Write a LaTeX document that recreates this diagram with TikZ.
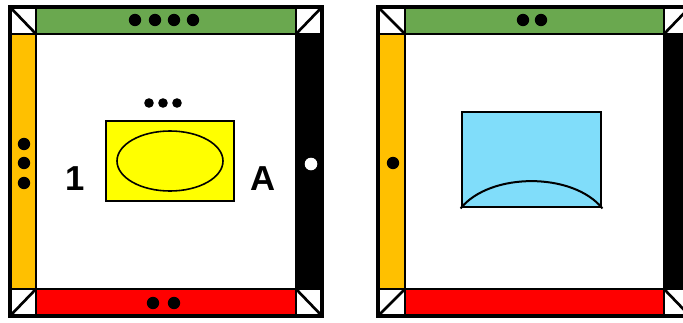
\documentclass[tikz,border=0pt]{standalone}
\usepackage{fontspec}
\setmainfont{Liberation Sans}
\definecolor{cgreen}{RGB}{106,168,79}
\definecolor{corange}{RGB}{255,192,0}
\definecolor{cred}{RGB}{255,0,0}
\definecolor{cyellow}{RGB}{255,255,0}
\definecolor{cblue}{RGB}{128,221,250}
\begin{document}
\begin{tikzpicture}[x=0.75pt,y=-0.75pt,
  cell/.style={draw=black,line width=2pt},
  frame/.style={draw=black,line width=2.6pt},
  dotb/.style={fill=black,draw=none},
  dotw/.style={fill=white,draw=none},
  lbl/.style={font=\bfseries\fontsize{26}{30}\selectfont,inner sep=0pt,anchor=base}]
\useasboundingbox (0,0) rectangle (683,322);
\begin{scope}
\clip (0,0) rectangle (683,322);
% ---------- left square ----------
\fill[white] (10,7) rectangle (322,316);
\path[cell,fill=cgreen] (36,7) rectangle (296,34);
\path[cell,fill=cred] (36,289) rectangle (296,316);
\path[cell,fill=corange] (10,34) rectangle (36,289);
\path[cell,fill=black] (296,34) rectangle (322,289);
\path[cell,fill=white] (10,7) rectangle (36,34);
\path[cell,fill=white] (296,7) rectangle (322,34);
\path[cell,fill=white] (10,289) rectangle (36,316);
\path[cell,fill=white] (296,289) rectangle (322,316);
\draw[cell] (10,7) -- (36,34);
\draw[cell] (322,7) -- (296,34);
\draw[cell] (10,316) -- (36,289);
\draw[cell] (322,316) -- (296,289);
\path[frame] (10,7) rectangle (322,316);
% dots
\foreach \x in {135,155,174,193} \fill[dotb] (\x,20) circle (6.2);
\foreach \x in {153,174} \fill[dotb] (\x,303) circle (6.2);
\foreach \y in {144,163,183} \fill[dotb] (24,\y) circle (6.2);
\fill[dotw] (311,164) circle (6.3);
% content
\node[draw=black,line width=1.2pt,fill=cyellow,minimum width=128*0.75pt,minimum height=80*0.75pt,inner sep=0pt] (yrect) at (170,161) {};
\draw[line width=1.2pt] (yrect.center) ellipse [x radius=53, y radius=30];
\foreach \x in {149,163,177} \fill[dotb] (\x,103) circle (4.8);
\node[lbl] (one) at (75,190) {1};
\node[lbl] (aa) at (263,190) {A};
% ---------- right square ----------
\fill[white] (378,7) rectangle (690,316);
\path[cell,fill=cgreen] (405,7) rectangle (664,34);
\path[cell,fill=cred] (405,289) rectangle (664,316);
\path[cell,fill=corange] (378,34) rectangle (405,289);
\path[cell,fill=black] (664,34) rectangle (690,289);
\path[cell,fill=white] (378,7) rectangle (405,34);
\path[cell,fill=white] (664,7) rectangle (690,34);
\path[cell,fill=white] (378,289) rectangle (405,316);
\path[cell,fill=white] (664,289) rectangle (690,316);
\draw[cell] (378,7) -- (405,34);
\draw[cell] (690,7) -- (664,34);
\draw[cell] (378,316) -- (405,289);
\draw[cell] (690,316) -- (664,289);
\path[frame] (378,7) rectangle (690,316);
\foreach \x in {523,541} \fill[dotb] (\x,20) circle (6.2);
\fill[dotb] (393,163) circle (6.2);
\node[draw=black,line width=2.2pt,fill=cblue,minimum width=139*0.75pt,minimum height=95*0.75pt,inner sep=0pt] (brect) at (531.5,159.5) {};
\draw[line width=1.5pt] (brect.south west) .. controls (490,172) and (573,172) .. (brect.south east);
\end{scope}
\end{tikzpicture}
\end{document}
